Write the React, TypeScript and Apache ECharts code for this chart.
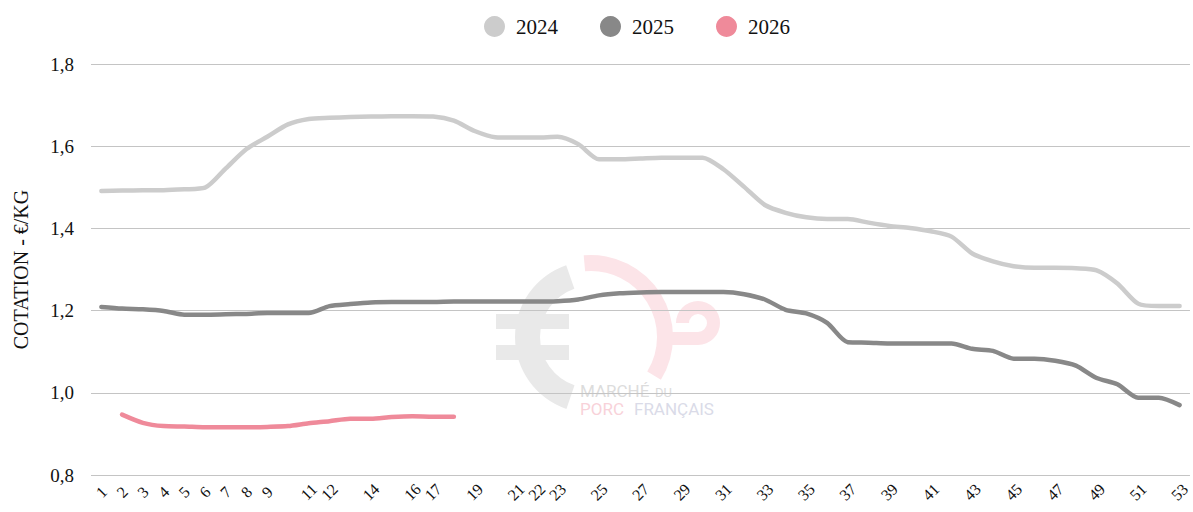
import React, { useEffect, useRef } from "react";
import * as echarts from "echarts";

const weeks: string[] = Array.from({ length: 53 }, (_, i) => String(i + 1));
const shownWeekLabels: string[] = ["1","2","3","4","5","6","7","8","9","11","12","14","16","17","19","21","22","23","25","27","29","31","33","35","37","39","41","43","45","47","49","51","53"];

const values2024: number[] = [
  1.491, 1.492, 1.493, 1.493, 1.495, 1.499, 1.546, 1.593, 1.623, 1.653,
  1.666, 1.669, 1.671, 1.672, 1.673, 1.673, 1.672, 1.662, 1.637, 1.622,
  1.621, 1.621, 1.623, 1.605, 1.568, 1.568, 1.570, 1.572, 1.572, 1.572,
  1.544, 1.501, 1.457, 1.438, 1.427, 1.423, 1.423, 1.414, 1.406, 1.401,
  1.393, 1.380, 1.339, 1.320, 1.308, 1.304, 1.304, 1.303, 1.298, 1.266,
  1.217, 1.211, 1.211,
];
const values2025: number[] = [
  1.209, 1.205, 1.203, 1.199, 1.190, 1.190, 1.191, 1.192, 1.194, 1.194,
  1.194, 1.211, 1.216, 1.220, 1.221, 1.221, 1.221, 1.222, 1.222, 1.222,
  1.222, 1.222, 1.223, 1.227, 1.237, 1.242, 1.244, 1.245, 1.245, 1.245,
  1.245, 1.240, 1.227, 1.202, 1.193, 1.170, 1.123, 1.122, 1.120, 1.120,
  1.120, 1.120, 1.107, 1.102, 1.083, 1.083, 1.078, 1.066, 1.036, 1.021,
  0.988, 0.988, 0.970,
];
const values2026: (number | null)[] = [
  null, 0.947, 0.927, 0.919, 0.918, 0.916, 0.916, 0.916, 0.917, 0.919,
  0.926, 0.931, 0.937, 0.937, 0.941, 0.943, 0.942, 0.942,
];

const seriesNames = ["2024", "2025", "2026"];
const seriesColors = ["#cccccc", "#888888", "#ef8a9a"];
const yAxisTitle = "COTATION - €/KG";
const watermarkLine1 = "MARCHÉ";
const watermarkLine1b = "DU";
const watermarkLine2a = "PORC";
const watermarkLine2b = "FRANÇAIS";

const serif = "Liberation Serif";

export default function App() {
  const ref = useRef<HTMLDivElement>(null);
  useEffect(() => {
    if (!ref.current) return;
    const chart = echarts.init(ref.current, undefined, { renderer: "svg" });
    const cx = 591;
    const cy = 337;
    const grey = "#e9e9e9";
    const pink = "#fce4e8";
    chart.setOption({
      animation: false,
      backgroundColor: "#ffffff",
      textStyle: { fontFamily: serif },
      legend: {
        top: 11,
        left: 479,
        icon: "circle",
        itemWidth: 33,
        itemHeight: 21,
        itemGap: 42,
        textStyle: { fontFamily: serif, fontSize: 21, color: "#111" },
        data: seriesNames,
      },
      grid: { left: 91, right: 0, top: 64, bottom: 37, containLabel: false },
      graphic: [
        {
          type: "group",
          z: -10,
          silent: true,
          children: [
            { type: "sector", shape: { cx, cy, r0: 51, r: 76, startAngle: 1.9, endAngle: 4.38, clockwise: true }, style: { fill: grey } },
            { type: "rect", shape: { x: 496, y: 314, width: 73, height: 15 }, style: { fill: grey } },
            { type: "rect", shape: { x: 496, y: 345, width: 73, height: 15 }, style: { fill: grey } },
            { type: "sector", shape: { cx, cy, r0: 66, r: 82, startAngle: -1.66, endAngle: 0.55, clockwise: true }, style: { fill: pink } },
            { type: "sector", shape: { cx: 698, cy: 323, r0: 9, r: 22, startAngle: Math.PI, endAngle: Math.PI * 2.5, clockwise: true }, style: { fill: pink } },
            { type: "rect", shape: { x: 668, y: 332, width: 30, height: 13 }, style: { fill: pink } },
            { type: "text", x: 580, y: 382, style: { text: watermarkLine1, fontFamily: "Roboto", fontSize: 17, fill: "#dcdcdc", verticalAlign: "top" } },
            { type: "text", x: 655, y: 386, style: { text: watermarkLine1b, fontFamily: "Roboto", fontSize: 13, fill: "#dcdcdc", verticalAlign: "top" } },
            { type: "text", x: 580, y: 400, style: { text: watermarkLine2a, fontFamily: "Roboto", fontSize: 17, fill: "#f8d2d9", verticalAlign: "top" } },
            { type: "text", x: 634, y: 400, style: { text: watermarkLine2b, fontFamily: "Roboto", fontSize: 17, fill: "#dadbe8", verticalAlign: "top" } },
          ],
        },
      ],
      xAxis: {
        type: "category",
        data: weeks,
        boundaryGap: true,
        axisLine: { show: false },
        axisTick: { show: false },
        axisLabel: {
          rotate: 45,
          align: "center",
          verticalAlign: "middle",
          margin: 17,
          fontFamily: serif,
          fontSize: 16,
          color: "#111",
          interval: (_i: number, v: string) => shownWeekLabels.includes(v),
        },
      },
      yAxis: {
        type: "value",
        min: 0.8,
        max: 1.8,
        interval: 0.2,
        name: yAxisTitle,
        nameLocation: "middle",
        nameGap: 60,
        nameTextStyle: { fontFamily: serif, fontSize: 20, color: "#111" },
        axisLine: { show: false },
        axisTick: { show: false },
        splitLine: { lineStyle: { color: "#c4c4c4", width: 1.2 } },
        axisLabel: {
          margin: 17,
          fontFamily: serif,
          fontSize: 19,
          color: "#111",
          formatter: (v: number) => v.toFixed(1).replace(".", ","),
        },
      },
      series: [
        { name: seriesNames[0], data: values2024 },
        { name: seriesNames[1], data: values2025 },
        { name: seriesNames[2], data: values2026 },
      ].map((s, i) => ({
        ...s,
        type: "line",
        smooth: 0.25,
        showSymbol: false,
        symbol: "circle",
        color: seriesColors[i],
        lineStyle: { width: 4.5, color: seriesColors[i], cap: "round", join: "round" },
        z: 3,
      })),
    });
    return () => chart.dispose();
  }, []);
  return (
    <div
      ref={ref}
      style={{ position: "absolute", left: 0, top: 0, width: 1193, height: 512 }}
    />
  );
}
